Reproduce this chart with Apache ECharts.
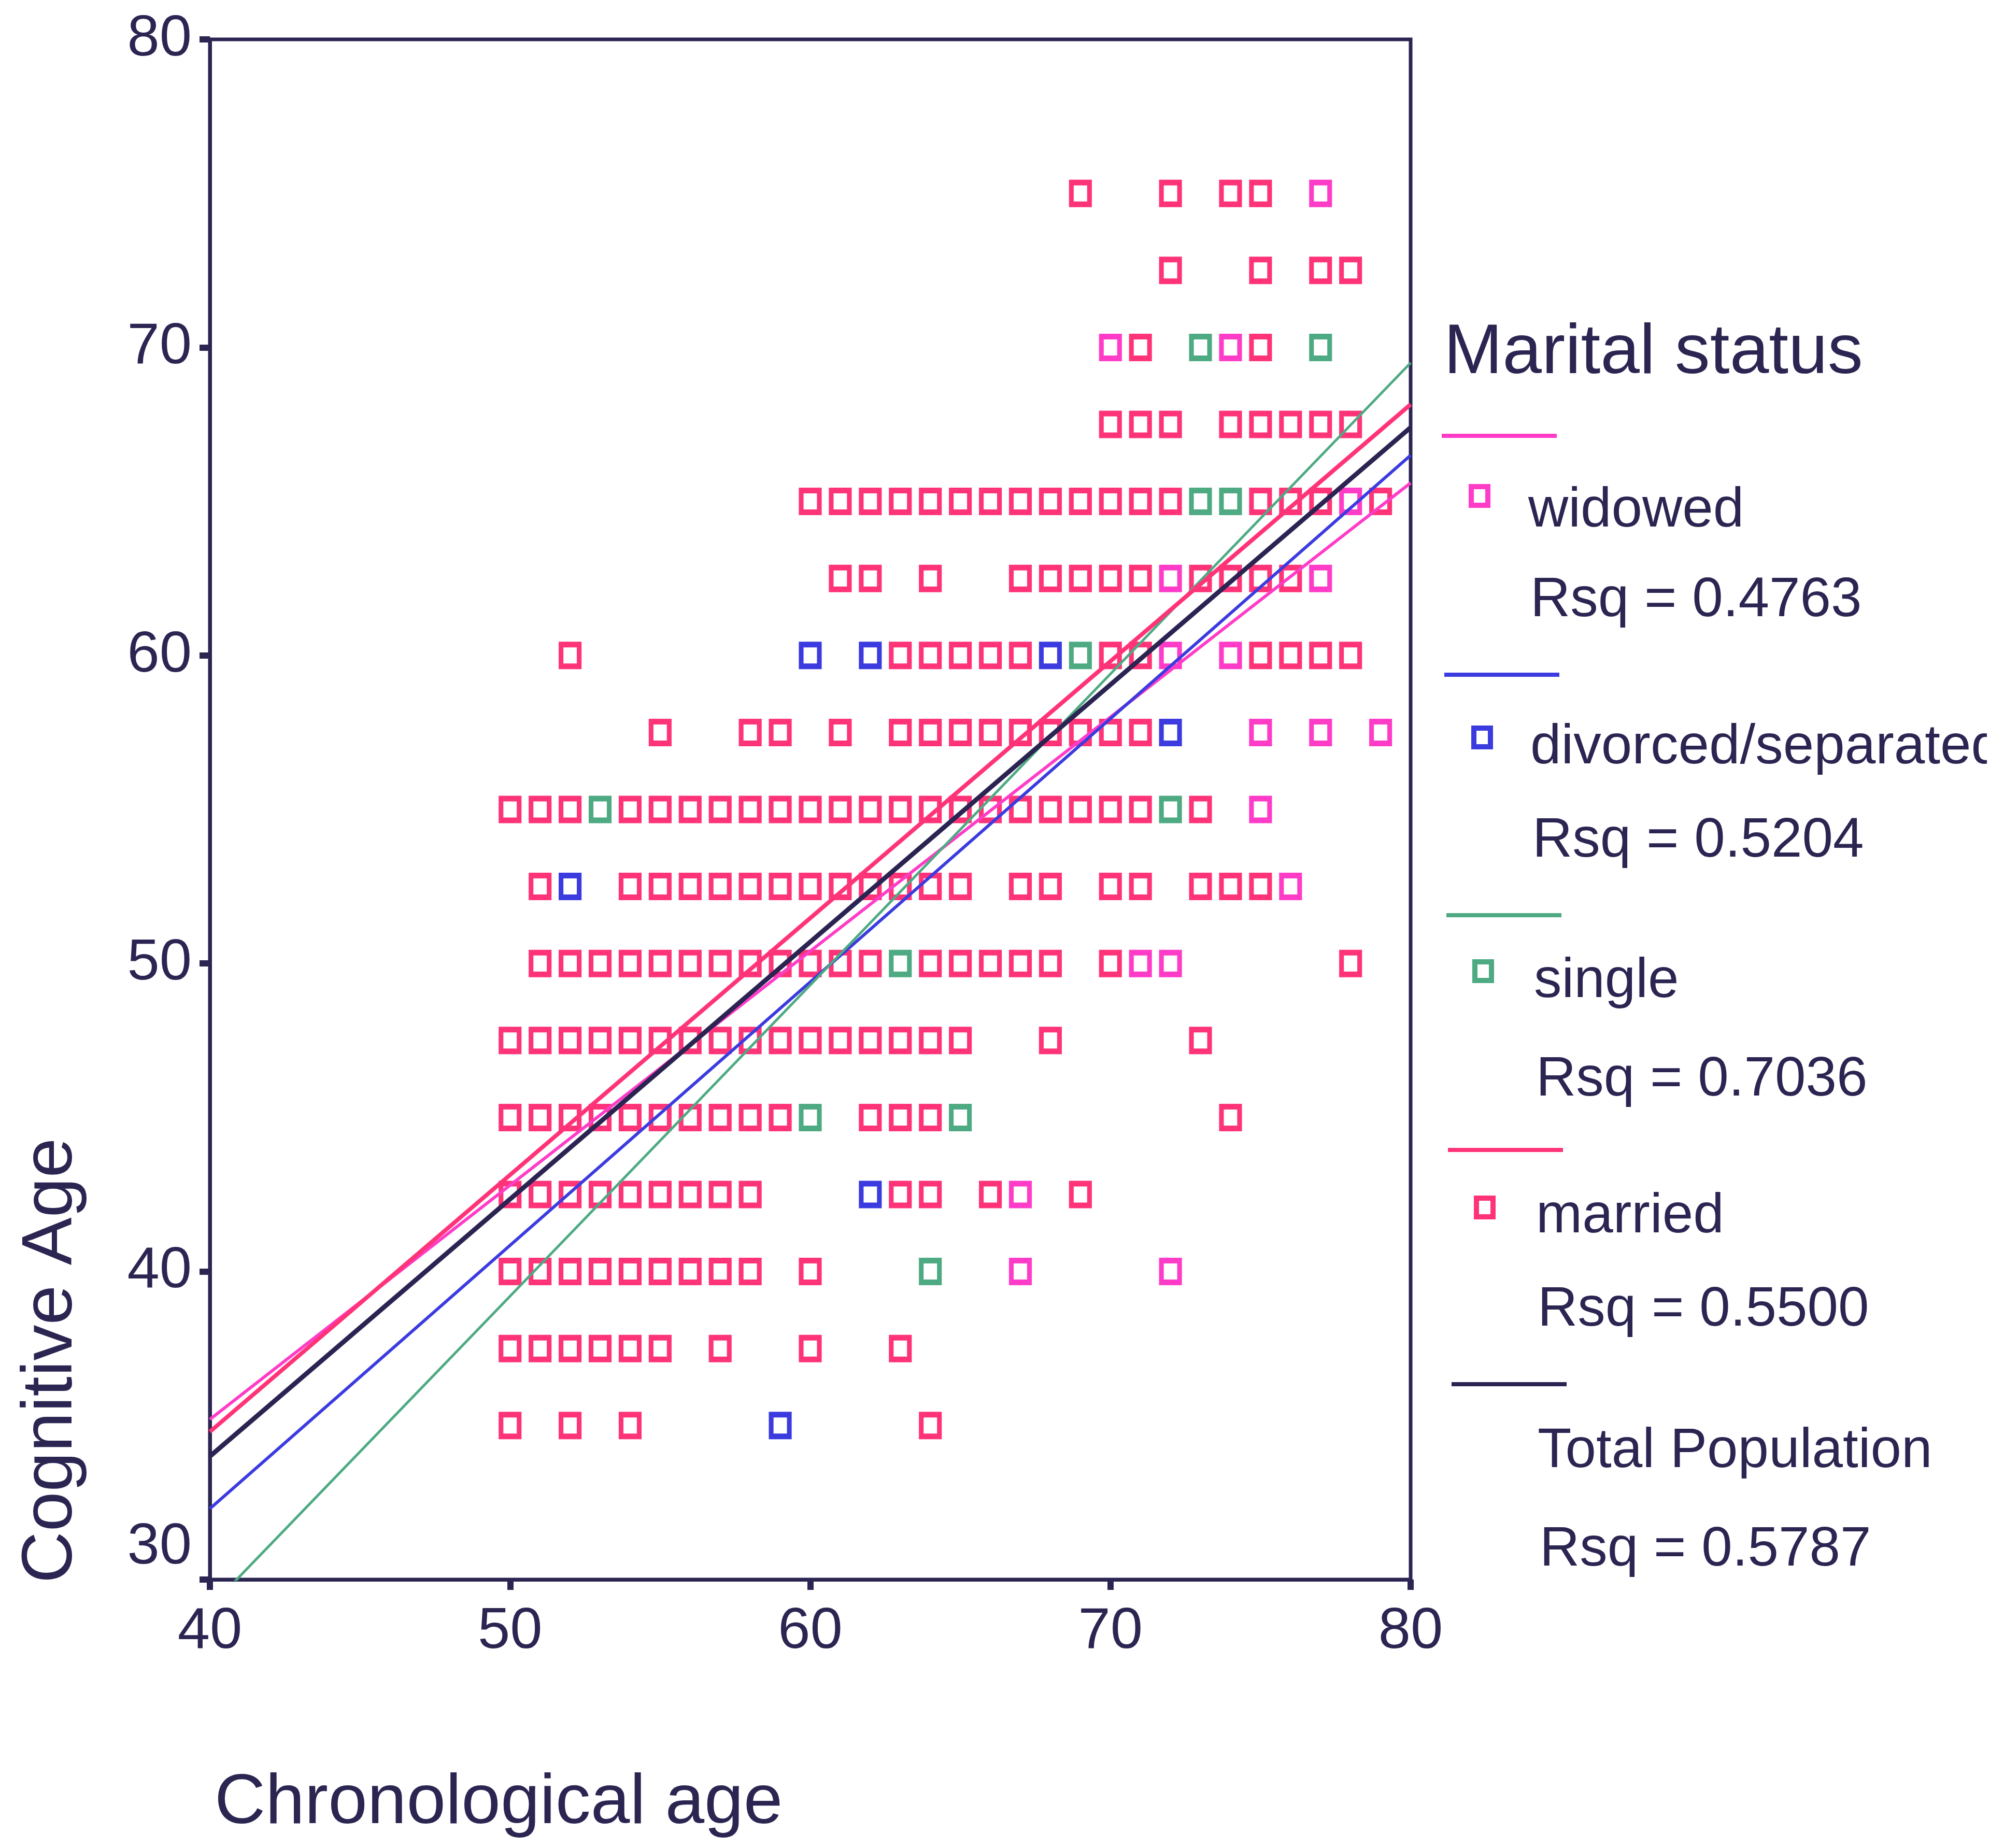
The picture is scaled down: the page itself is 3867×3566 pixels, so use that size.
<!DOCTYPE html>
<html><head><meta charset="utf-8">
<script src="https://cdn.jsdelivr.net/npm/echarts@6/dist/echarts.min.js"></script>
<style>html,body{margin:0;padding:0;background:#ffffff}#c{width:3867px;height:3566px}</style>
</head><body><div id="c"></div>
<script>
// ---- data ----
const ageTicks = [40, 50, 60, 70, 80];
const cogTicks = [30, 40, 50, 60, 70, 80];

// rows: [cognitive age, [chronological ages]]
const widowedRows = [
  [75, [77]], [70, [70, 74]], [65, [78]], [62.5, [72, 77]], [60, [72, 74]],
  [57.5, [75, 77, 79]], [55, [75]], [52.5, [76]], [50, [71, 72]], [42.5, [67]], [40, [67, 72]]
];
const divorcedRows = [
  [60, [60, 62, 68]], [57.5, [72]], [52.5, [52]], [42.5, [62]], [35, [59]]
];
const singleRows = [
  [70, [73, 77]], [65, [73, 74]], [60, [69]], [55, [53, 72]], [50, [63]], [45, [60, 65]], [40, [64]]
];
const marriedRows = [
  [75, [69, 72, 74, 75]],
  [72.5, [72, 75, 77, 78]],
  [70, [71, 75]],
  [67.5, [70, 71, 72, 74, 75, 76, 77, 78]],
  [65, [60, 61, 62, 63, 64, 65, 66, 67, 68, 69, 70, 71, 72, 75, 76, 77, 79]],
  [62.5, [61, 62, 64, 67, 68, 69, 70, 71, 73, 74, 75, 76]],
  [60, [52, 63, 64, 65, 66, 67, 70, 71, 75, 76, 77, 78]],
  [57.5, [55, 58, 59, 61, 63, 64, 65, 66, 67, 68, 69, 70, 71]],
  [55, [50, 51, 52, 54, 55, 56, 57, 58, 59, 60, 61, 62, 63, 64, 65, 66, 67, 68, 69, 70, 71, 73]],
  [52.5, [51, 54, 55, 56, 57, 58, 59, 60, 61, 62, 63, 64, 65, 67, 68, 70, 71, 73, 74, 75]],
  [50, [51, 52, 53, 54, 55, 56, 57, 58, 59, 60, 61, 62, 64, 65, 66, 67, 68, 70, 78]],
  [47.5, [50, 51, 52, 53, 54, 55, 56, 57, 58, 59, 60, 61, 62, 63, 64, 65, 68, 73]],
  [45, [50, 51, 52, 53, 54, 55, 56, 57, 58, 59, 62, 63, 64, 74]],
  [42.5, [50, 51, 52, 53, 54, 55, 56, 57, 58, 63, 64, 66, 69]],
  [40, [50, 51, 52, 53, 54, 55, 56, 57, 58, 60]],
  [37.5, [50, 51, 52, 53, 54, 55, 57, 60, 63]],
  [35, [50, 52, 54, 64]]
];

// fitted lines: value at age 40 and at age 80
const fitNames = ['widowed', 'divorced/separated', 'single', 'married', 'Total Population'];
const fitAt40 = [35.2, 32.3, 29.1, 34.8, 34.0];
const fitAt80 = [65.6, 66.5, 69.5, 68.15, 67.4];
const rsqLabels = ['Rsq = 0.4763', 'Rsq = 0.5204', 'Rsq = 0.7036', 'Rsq = 0.5500', 'Rsq = 0.5787'];
const legendTitle = 'Marital status';

// ---- styles ----
const NAVY = '#2b2552';
const colors = ['#ff3cc8', '#3b3be0', '#4eaa82', '#ff3478', '#2b2452'];
const lineWidths = [6, 6, 5, 8, 9];
const FONT = '"Liberation Sans", Arial, sans-serif';

function toPoints(rows) {
  const pts = [];
  rows.forEach(function (r) { r[1].forEach(function (x) { pts.push([x, r[0]]); }); });
  return pts;
}
const groups = [widowedRows, divorcedRows, singleRows, marriedRows];

const series = [];
[3, 0, 1, 2].forEach(function (i) {
  series.push({
    type: 'scatter', name: fitNames[i], data: toPoints(groups[i]),
    symbol: 'rect', symbolSize: [35, 42],
    itemStyle: { color: 'rgba(0,0,0,0)', borderColor: colors[i], borderWidth: 10, opacity: 1 },
    z: 2, silent: true
  });
});
[2, 1, 0, 3, 4].forEach(function (i) {
  series.push({
    type: 'line', name: fitNames[i] + ' fit',
    data: [[ageTicks[0], fitAt40[i]], [ageTicks[ageTicks.length - 1], fitAt80[i]]],
    showSymbol: false, symbol: 'none', clip: true,
    lineStyle: { color: colors[i], width: lineWidths[i] },
    z: 5 + i, silent: true, animation: false
  });
});

// ---- legend (graphic) ----
const graphic = [];
function txt(x, y, s, size, opts) {
  graphic.push(Object.assign({
    type: 'text', x: x, y: y, silent: true,
    style: { text: s, font: size + 'px ' + FONT, fill: NAVY, textAlign: 'left', textVerticalAlign: 'middle', align: 'left', verticalAlign: 'middle' }
  }, opts || {}));
}
txt(2786, 682, legendTitle, 136);
const legLineY = [841, 1302, 1766, 2219, 2671];
const legLineX = [2782, 2787, 2791, 2794, 2801];
const legSqY = [957, 1423, 1874, 2330];
const legSqX = [2855, 2860, 2862, 2865];
const legNameY = [986, 1443, 1894, 2348, 2801];
const legNameX = [2949, 2953, 2960, 2964, 2967];
const legRsqY = [1159, 1623, 2084, 2528, 2991];
const legRsqX = [2953, 2957, 2964, 2967, 2971];
const legendNames = ['widowed', 'divorced/separated', 'single', 'married', 'Total Population'];
for (let i = 0; i < 5; i++) {
  graphic.push({ type: 'line', silent: true,
    shape: { x1: legLineX[i], y1: legLineY[i], x2: legLineX[i] + 222, y2: legLineY[i] },
    style: { stroke: colors[i], lineWidth: 8 } });
  if (i < 4) {
    graphic.push({ type: 'rect', silent: true,
      shape: { x: legSqX[i] - 16, y: legSqY[i] - 18, width: 32, height: 36 },
      style: { fill: 'rgba(0,0,0,0)', stroke: colors[i], lineWidth: 10 } });
  }
  txt(legNameX[i], legNameY[i], legendNames[i], 107);
  txt(legRsqX[i], legRsqY[i], rsqLabels[i], 107);
}
// the scanned reference is cut off at its right edge
graphic.push({ type: 'rect', silent: true, z: 100,
  shape: { x: 3834, y: 1360, width: 40, height: 160 }, style: { fill: '#ffffff' } });
// axis titles
txt(414, 3480, 'Chronological age', 136);
txt(100, 3055, 'Cognitive Age', 138, { rotation: Math.PI / 2 });

const chart = echarts.init(document.getElementById('c'), null, { renderer: 'canvas' });
chart.setOption({
  backgroundColor: '#ffffff',
  animation: false,
  grid: { left: 405, top: 76, width: 2317, height: 2972, show: true, borderColor: NAVY, borderWidth: 7, backgroundColor: 'rgba(0,0,0,0)' },
  xAxis: {
    type: 'value', min: ageTicks[0], max: ageTicks[ageTicks.length - 1], interval: ageTicks[1] - ageTicks[0],
    axisLine: { show: true, lineStyle: { color: NAVY, width: 7 } },
    axisTick: { show: true, length: 20, lineStyle: { color: NAVY, width: 12 } },
    axisLabel: { fontSize: 112, fontFamily: FONT, color: NAVY, margin: 45 },
    splitLine: { show: false }
  },
  yAxis: {
    type: 'value', min: cogTicks[0], max: cogTicks[cogTicks.length - 1], interval: cogTicks[1] - cogTicks[0],
    axisLine: { show: true, lineStyle: { color: NAVY, width: 7 } },
    axisTick: { show: true, length: 20, lineStyle: { color: NAVY, width: 12 } },
    axisLabel: {
      fontSize: 112, fontFamily: FONT, color: NAVY, margin: 35,
      formatter: function (v) { return v === cogTicks[0] ? '{sp| }{v|' + v + '}' : String(v); },
      rich: {
        sp: { fontSize: 2, lineHeight: 236, fontFamily: FONT },
        v: { fontSize: 112, lineHeight: 112, verticalAlign: 'top', fontFamily: FONT, color: NAVY }
      }
    },
    splitLine: { show: false }
  },
  series: series,
  graphic: graphic
});
</script></body></html>
